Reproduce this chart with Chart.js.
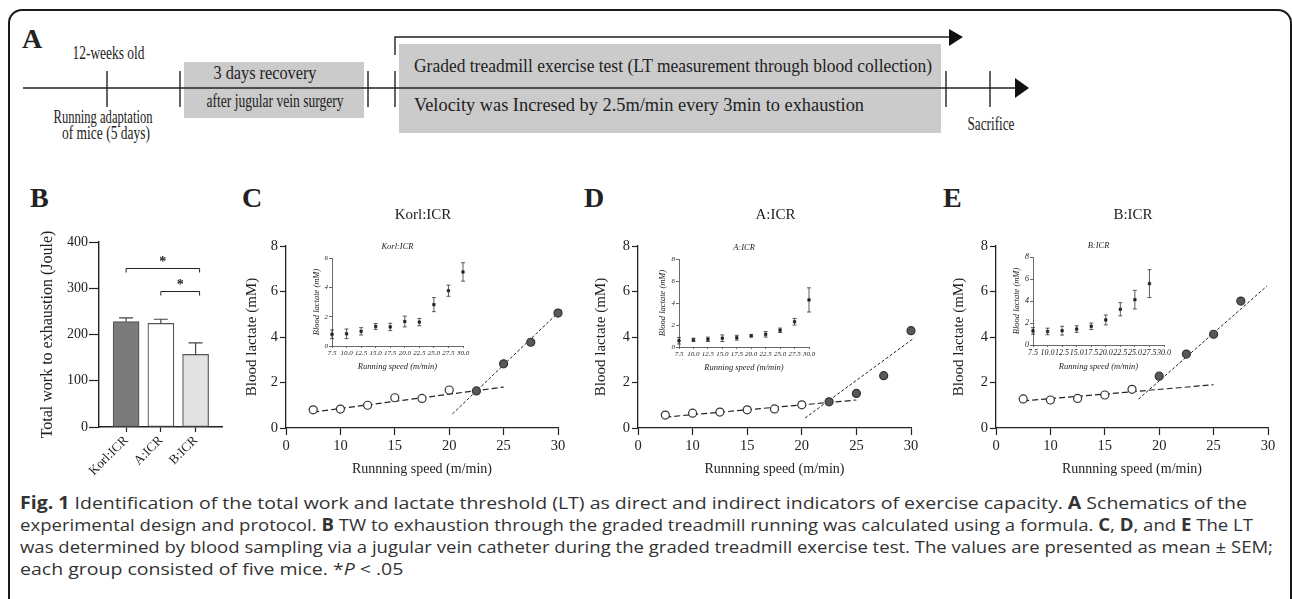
<!DOCTYPE html>
<html>
<head>
<meta charset="utf-8">
<script src="https://cdn.jsdelivr.net/npm/chart.js@4.4.0/dist/chart.umd.min.js"></script>
<style>
  html, body { margin: 0; padding: 0; background: #fff; }
  body { width: 1292px; height: 599px; position: relative; overflow: hidden;
         font-family: 'Liberation Serif', 'Times New Roman', serif; color: #222; }
  #frame { position: absolute; left: 8px; top: 9px; width: 1284px; height: 640px;
           border: 2px solid #1a1a1a; border-radius: 14px; box-sizing: border-box; }
  .lbl { position: absolute; font-weight: bold; font-size: 28px; line-height: 1; }
  canvas { position: absolute; }
  #schema { position: absolute; left: 0; top: 0; }
  #caption { position: absolute; left: 20px; top: 492px; font-family: 'Open Sans', sans-serif;
             font-size: 17px; line-height: 22px; color: #333; white-space: nowrap; }
  #caption div { transform-origin: 0 0; width: max-content; }
</style>
</head>
<body>
<div id="frame"></div>

<!-- A: esquema del protocolo -->
<svg id="schema" width="1292" height="160" font-family="'Liberation Serif', 'Times New Roman', serif" font-size="18.5" fill="#222">
  <rect x="184" y="62" width="180" height="56" fill="#cbcbcb"/>
  <rect x="399" y="44" width="542" height="89" fill="#cbcbcb"/>
  <g stroke="#222" stroke-width="1.4" fill="none">
    <line x1="23" y1="88" x2="1016" y2="88"/>
    <polyline points="395,55 395,37 950,37"/>
    <line x1="107" y1="71" x2="107" y2="107"/>
    <line x1="180" y1="71" x2="180" y2="107"/>
    <line x1="368" y1="71" x2="368" y2="107"/>
    <line x1="395" y1="71" x2="395" y2="107"/>
    <line x1="946" y1="71" x2="946" y2="107"/>
    <line x1="990" y1="71" x2="990" y2="107"/>
  </g>
  <polygon points="1015,78 1029,88 1015,98" fill="#111"/>
  <polygon points="949,29 963,37 949,46" fill="#111"/>
  <text x="108.5" y="59" text-anchor="middle" textLength="72" lengthAdjust="spacingAndGlyphs">12-weeks old</text>
  <text x="103" y="123" text-anchor="middle" textLength="99" lengthAdjust="spacingAndGlyphs">Running adaptation</text>
  <text x="106" y="139" text-anchor="middle" textLength="88" lengthAdjust="spacingAndGlyphs">of mice (5 days)</text>
  <text x="265" y="79" text-anchor="middle" textLength="103" lengthAdjust="spacingAndGlyphs">3 days recovery</text>
  <text x="275" y="107" text-anchor="middle" textLength="137" lengthAdjust="spacingAndGlyphs">after jugular vein surgery</text>
  <text x="414" y="72" textLength="518" lengthAdjust="spacingAndGlyphs">Graded treadmill exercise test (LT measurement through blood collection)</text>
  <text x="414" y="111" textLength="450" lengthAdjust="spacingAndGlyphs">Velocity was Incresed by 2.5m/min every 3min to exhaustion</text>
  <text x="991" y="130" text-anchor="middle" textLength="47" lengthAdjust="spacingAndGlyphs">Sacrifice</text>
</svg>

<div class="lbl" style="left:22px;top:25px;">A</div>
<div class="lbl" style="left:30px;top:184px;">B</div>
<div class="lbl" style="left:242px;top:184px;">C</div>
<div class="lbl" style="left:584px;top:184px;">D</div>
<div class="lbl" style="left:943px;top:184px;">E</div>

<div id="caption">
  <div data-w="1227"><b>Fig. 1</b> Identification of the total work and lactate threshold (LT) as direct and indirect indicators of exercise capacity. <b>A</b> Schematics of the</div>
  <div data-w="1233">experimental design and protocol. <b>B</b> TW to exhaustion through the graded treadmill running was calculated using a formula. <b>C</b>, <b>D</b>, and <b>E</b> The LT</div>
  <div data-w="1253">was determined by blood sampling via a jugular vein catheter during the graded treadmill exercise test. The values are presented as mean ± SEM;</div>
  <div>each group consisted of five mice. *<i>P</i> &lt; .05</div>
</div>

<script>
// ------------------------------------------------------------
//  Datos
// ------------------------------------------------------------
const GROUPS  = ['Korl:ICR', 'A:ICR', 'B:ICR'];
const TW_MEAN = [228, 224, 157];
const TW_SEM  = [8, 9, 25];
const TW_FILL = ['#7b7b7b', '#ffffff', '#e2e2e2'];
const SIG_PAIRS  = [[0, 2], [1, 2]];
const SIG_HEIGHT = [344, 294];
const TW_TICKS   = [0, 100, 200, 300, 400];

const SPEEDS       = [7.5, 10, 12.5, 15, 17.5, 20, 22.5, 25, 27.5, 30];
const SPEED_TICKS  = [5, 10, 15, 20, 25, 30];

const KORL_LACTATE = [0.8, 0.83, 1.0, 1.33, 1.3, 1.67, 1.63, 2.82, 3.77, 5.05];
const KORL_SEM     = [0.3, 0.33, 0.25, 0.2, 0.25, 0.37, 0.25, 0.48, 0.38, 0.63];
const KORL_OPEN    = 6;
const KORL_FIT_LOW  = [[7.5, 0.7], [25, 1.8]];
const KORL_FIT_HIGH = [[20.3, 0.62], [30.3, 5.2]];

const A_LACTATE = [0.57, 0.65, 0.7, 0.8, 0.84, 1.02, 1.15, 1.52, 2.3, 4.28];
const A_SEM     = [0.3, 0.15, 0.2, 0.3, 0.22, 0.12, 0.25, 0.2, 0.3, 1.1];
const A_OPEN    = 6;
const A_FIT_LOW  = [[7.5, 0.48], [25, 1.23]];
const A_FIT_HIGH = [[20.3, 0.44], [30.3, 3.96]];

const B_LACTATE = [1.28, 1.23, 1.3, 1.45, 1.7, 2.28, 3.25, 4.12, 5.58];
const B_SEM     = [0.3, 0.3, 0.4, 0.3, 0.3, 0.45, 0.6, 0.85, 1.27];
const B_OPEN    = 5;
const B_FIT_LOW  = [[7.5, 1.19], [25, 1.9]];
const B_FIT_HIGH = [[18.1, 1.27], [29.9, 6.24]];

// ------------------------------------------------------------
//  Estilo general
// ------------------------------------------------------------
const SERIF = "'Liberation Serif', 'Times New Roman', serif";
const INK = '#222';

Chart.defaults.font.family = SERIF;
Chart.defaults.color = INK;
Chart.defaults.plugins.legend.display = false;
Chart.defaults.plugins.tooltip.enabled = false;
Chart.defaults.events = [];

// ------------------------------------------------------------
//  Plugins
// ------------------------------------------------------------
const errorBars = {
  id: 'errorBars',
  afterDatasetsDraw(chart, args, opts) {
    if (!opts.sem) return;
    const { ctx } = chart;
    const xs = chart.scales.x, ys = chart.scales.y;
    const half = opts.cap / 2;
    ctx.save();
    ctx.strokeStyle = opts.color || INK;
    ctx.lineWidth = opts.width || 1;
    chart.data.datasets[0].data.forEach((p, i) => {
      const px = xs.getPixelForValue(p.x);
      const top = ys.getPixelForValue(p.y + opts.sem[i]);
      const bot = ys.getPixelForValue(opts.upOnly ? p.y : p.y - opts.sem[i]);
      ctx.beginPath();
      ctx.moveTo(px, bot); ctx.lineTo(px, top);
      ctx.moveTo(px - half, top); ctx.lineTo(px + half, top);
      if (!opts.upOnly) { ctx.moveTo(px - half, bot); ctx.lineTo(px + half, bot); }
      ctx.stroke();
    });
    ctx.restore();
  }
};

const sigBrackets = {
  id: 'sigBrackets',
  afterDatasetsDraw(chart, args, opts) {
    if (!opts.pairs) return;
    const { ctx } = chart;
    const xs = chart.scales.x, ys = chart.scales.y;
    ctx.save();
    ctx.strokeStyle = INK; ctx.fillStyle = INK; ctx.lineWidth = 1;
    ctx.font = `bold 14px ${SERIF}`; ctx.textAlign = 'center';
    opts.pairs.forEach(([a, b], k) => {
      const y = Math.round(ys.getPixelForValue(opts.heights[k])) + 0.5;
      const x1 = xs.getPixelForValue(a), x2 = xs.getPixelForValue(b) + 4;
      ctx.beginPath();
      ctx.moveTo(x1, y + 4); ctx.lineTo(x1, y); ctx.lineTo(x2, y); ctx.lineTo(x2, y + 4);
      ctx.stroke();
      ctx.fillText('*', (x1 + x2) / 2, y - 3);
    });
    ctx.restore();
  }
};

const panelTitle = {
  id: 'panelTitle',
  afterDraw(chart, args, opts) {
    if (!opts.text) return;
    const { ctx, chartArea: a } = chart;
    ctx.save();
    ctx.font = opts.css; ctx.fillStyle = INK;
    ctx.textAlign = 'center'; ctx.textBaseline = 'middle';
    ctx.fillText(opts.text, (a.left + a.right) / 2 + (opts.dx || 0), a.top - opts.dy);
    ctx.restore();
  }
};

// ------------------------------------------------------------
//  Monta un canvas para que el área de trazado caiga en rect
// ------------------------------------------------------------
function mount(rect, pad, config) {
  const c = document.createElement('canvas');
  const w = rect.r - rect.l + pad.l + pad.r;
  const h = rect.b - rect.t + pad.t + pad.b;
  c.width = w; c.height = h;
  c.style.left = (rect.l - pad.l) + 'px';
  c.style.top = (rect.t - pad.t) + 'px';
  c.style.width = w + 'px'; c.style.height = h + 'px';
  document.body.appendChild(c);
  const o = config.options;
  o.responsive = false;
  o.animation = false;
  o.devicePixelRatio = 1;
  o.layout = { padding: { left: 0, top: pad.t, right: pad.r, bottom: 0 } };
  o.scales.x.afterFit = s => { s.height = pad.b; };
  o.scales.y.afterFit = s => { s.width = pad.l; };
  return new Chart(c, config);
}

const pts = (vals) => vals.map((v, i) => ({ x: SPEEDS[i], y: v }));
const seg = (pair) => pair.map(([x, y]) => ({ x, y }));

// ------------------------------------------------------------
//  B: trabajo total
// ------------------------------------------------------------
mount({ l: 99, r: 222, t: 242, b: 427 }, { l: 61, t: 20, r: 14, b: 52 }, {
  type: 'bar',
  data: {
    datasets: [{
      data: TW_MEAN.map((v, i) => ({ x: i, y: v })),
      backgroundColor: TW_FILL,
      borderColor: '#555',
      borderWidth: 1.2,
      borderSkipped: false,
      barThickness: 26
    }]
  },
  options: {
    scales: {
      x: {
        type: 'linear', min: -0.78, max: 2.76, offset: false,
        afterBuildTicks: s => { s.ticks = GROUPS.map((g, i) => ({ value: i })); },
        ticks: { callback: v => GROUPS[v], font: { size: 13 }, minRotation: 45, maxRotation: 45, autoSkip: false, padding: 1 },
        grid: { offset: false, drawOnChartArea: false, tickLength: 5, tickColor: INK, tickWidth: 1.2 },
        border: { color: INK, width: 1.4 }
      },
      y: {
        min: 0, max: 400,
        afterBuildTicks: s => { s.ticks = TW_TICKS.map(v => ({ value: v })); },
        ticks: { font: { size: 14 }, padding: 1 },
        grid: { drawOnChartArea: false, tickLength: 10, tickColor: INK, tickWidth: 1.2 },
        border: { color: INK, width: 1.4 },
        title: { display: true, text: 'Total work to exhaustion (Joule)', font: { size: 16 }, padding: 0 }
      }
    },
    plugins: {
      errorBars: { sem: TW_SEM, cap: 14, upOnly: true, color: '#444', width: 1.2 },
      sigBrackets: { pairs: SIG_PAIRS, heights: SIG_HEIGHT }
    }
  },
  plugins: [errorBars, sigBrackets]
});

// ------------------------------------------------------------
//  C, D, E: lactato vs velocidad
// ------------------------------------------------------------
function lactatePanel(rect, padL, title, vals, nOpen, fitLow, fitHigh) {
  const all = pts(vals);
  mount(rect, { l: padL, t: 45, r: 16, b: 50 }, {
    type: 'scatter',
    data: {
      datasets: [
        { data: all.slice(0, nOpen), pointRadius: 4, pointBackgroundColor: '#fff',
          pointBorderColor: '#333', pointBorderWidth: 1.2, clip: false },
        { data: all.slice(nOpen), pointRadius: 4, pointBackgroundColor: '#585858',
          pointBorderColor: '#333', pointBorderWidth: 1.2, clip: false },
        { data: seg(fitLow), showLine: true, borderColor: INK, borderWidth: 1.2,
          borderDash: [6, 3], pointRadius: 0, clip: false },
        { data: seg(fitHigh), showLine: true, borderColor: INK, borderWidth: 1,
          borderDash: [3, 2], pointRadius: 0, clip: false }
      ]
    },
    options: {
      scales: {
        x: {
          type: 'linear', min: 5, max: 30,
          afterBuildTicks: s => { s.ticks = SPEED_TICKS.map(v => ({ value: v })); },
          ticks: { callback: v => (v === 5 ? '0' : v), font: { size: 14.5 }, padding: 2, maxRotation: 0, autoSkip: false },
          grid: { drawOnChartArea: false, tickLength: 7, tickColor: INK, tickWidth: 1.2 },
          border: { color: INK, width: 1.3 },
          title: { display: true, text: 'Runnning speed (m/min)', font: { size: 14 }, padding: 0 }
        },
        y: {
          min: 0, max: 8,
          ticks: { stepSize: 2, font: { size: 14.5 }, padding: 2 },
          grid: { drawOnChartArea: false, tickLength: 6, tickColor: INK, tickWidth: 1.2 },
          border: { color: INK, width: 1.3 },
          title: { display: true, text: 'Blood lactate (mM)', font: { size: 15 }, padding: 0 }
        }
      },
      plugins: { panelTitle: { text: title, css: `15px ${SERIF}`, dy: 31, dx: 1 } }
    },
    plugins: [panelTitle]
  });
}

function insetPanel(rect, pad, title, vals, sem, yMax, tickSize) {
  const italic = { style: 'italic', size: tickSize };
  mount(rect, pad, {
    type: 'scatter',
    data: {
      datasets: [{ data: pts(vals), pointRadius: 1.8, pointStyle: 'rect', pointBackgroundColor: '#111',
                   pointBorderColor: '#111', pointBorderWidth: 0.5, clip: false }]
    },
    options: {
      scales: {
        x: {
          type: 'linear', min: 7.5, max: 30,
          afterBuildTicks: s => { s.ticks = SPEEDS.map(v => ({ value: v })); },
          ticks: { callback: v => v.toFixed(1), font: italic, padding: 1, minRotation: 0, maxRotation: 0, autoSkip: false },
          grid: { drawOnChartArea: false, tickLength: 2, tickColor: '#444', tickWidth: 0.8 },
          border: { color: '#444', width: 0.8 },
          title: { display: true, text: 'Running speed (m/min)', font: { style: 'italic', size: 8.5 }, padding: 0 }
        },
        y: {
          min: 0, max: yMax,
          ticks: { stepSize: 2, font: italic, padding: 1 },
          grid: { drawOnChartArea: false, tickLength: 3, tickColor: '#444', tickWidth: 0.8 },
          border: { color: '#444', width: 0.8 },
          title: { display: true, text: 'Blood lactate (mM)', font: { style: 'italic', size: 8.5 }, padding: 0 }
        }
      },
      plugins: {
        errorBars: { sem: sem, cap: 4, color: '#333', width: 0.8 },
        panelTitle: { text: title, css: `italic 8.5px ${SERIF}`, dy: 11 }
      }
    },
    plugins: [errorBars, panelTitle]
  });
}

lactatePanel({ l: 286, r: 558, t: 246, b: 428 }, 43, 'Korl:ICR', KORL_LACTATE, KORL_OPEN, KORL_FIT_LOW, KORL_FIT_HIGH);
lactatePanel({ l: 638, r: 911, t: 246, b: 428 }, 46, 'A:ICR', A_LACTATE, A_OPEN, A_FIT_LOW, A_FIT_HIGH);
lactatePanel({ l: 996, r: 1268, t: 246, b: 428 }, 46, 'B:ICR', B_LACTATE, B_OPEN, B_FIT_LOW, B_FIT_HIGH);

insetPanel({ l: 332, r: 463, t: 258, b: 346 }, { l: 20, t: 16, r: 10, b: 26 }, 'Korl:ICR', KORL_LACTATE, KORL_SEM, 6, 7);
insetPanel({ l: 679, r: 809, t: 259, b: 347 }, { l: 21, t: 16, r: 10, b: 26 }, 'A:ICR', A_LACTATE, A_SEM, 8, 7);
insetPanel({ l: 1033, r: 1164, t: 257, b: 345 }, { l: 21, t: 16, r: 10, b: 27 }, 'B:ICR', B_LACTATE, B_SEM, 8, 8);

// ------------------------------------------------------------
//  Pie de figura: cada línea se ajusta a su ancho
// ------------------------------------------------------------
const capLines = document.querySelectorAll('#caption div');
const k1 = Number(capLines[0].dataset.w) / capLines[0].getBoundingClientRect().width;
capLines.forEach(el => {
  const k = el.dataset.w ? Number(el.dataset.w) / el.getBoundingClientRect().width : k1;
  el.style.transform = `scaleX(${k})`;
});
</script>
</body>
</html>
